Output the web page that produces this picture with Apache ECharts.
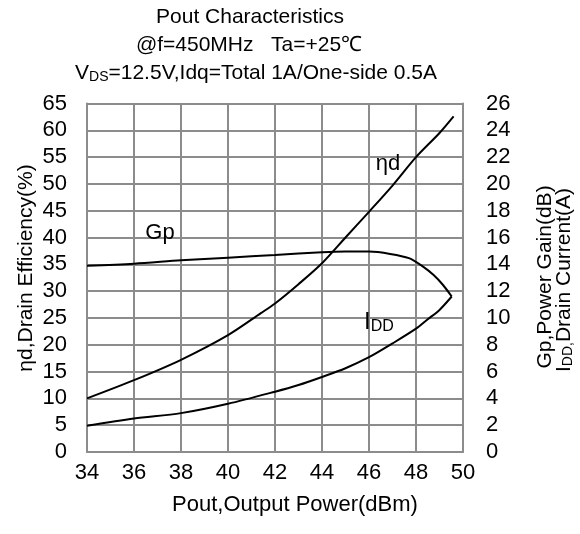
<!DOCTYPE html>
<html><head><meta charset="utf-8">
<script src="https://cdn.jsdelivr.net/npm/echarts@6/dist/echarts.min.js"></script>
<style>html,body{margin:0;padding:0;background:#fff}#c{width:580px;height:534px}</style>
</head><body><div id="c"></div>
<script>
const xTicks = [34, 50, 2];
const effTicks = [0, 65, 5];
const rightTicks = [0, 26, 2];
// ηd (%) vs Pout (dBm)
const effX = [34, 36, 38, 40, 41.4, 42, 43, 44, 45, 46, 47, 48, 49, 49.6];
const effY = [10, 13.4, 17.2, 21.8, 25.9, 27.7, 31.3, 35.2, 40.0, 44.8, 49.7, 55.0, 59.5, 62.6];
// Gp (dB) vs Pout
const gpX = [34, 36, 38, 40, 42, 44, 45, 46, 46.9, 47.7, 48.3, 48.75, 49.15, 49.52];
const gpY = [13.9, 14.05, 14.3, 14.5, 14.7, 14.9, 14.95, 14.95, 14.78, 14.46, 13.83, 13.2, 12.46, 11.6];
// IDD (A) vs Pout
const iddX = [34, 36, 38, 40, 42, 43, 44, 45, 46, 47, 48, 48.5, 49, 49.52];
const iddY = [1.96, 2.5, 2.9, 3.6, 4.5, 5.0, 5.6, 6.25, 7.07, 8.1, 9.2, 9.9, 10.6, 11.6];

const pairs = (xs, ys) => xs.map((x, i) => [x, ys[i]]);
const F = 'Liberation Sans, Arial, sans-serif';
const grid = '#8c8c8c';
const chart = echarts.init(document.getElementById('c'));
const lineS = (data, yi) => ({type:'line', yAxisIndex: yi, data, smooth: 0.3, symbol:'none',
  lineStyle:{color:'#000', width:2}, z: 5});
chart.setOption({
  animation:false,
  grid:{left:87, right:117, top:103.5, bottom:82},
  xAxis:{type:'value', min:xTicks[0], max:xTicks[1], interval:xTicks[2],
    axisLine:{lineStyle:{color:grid, width:2}}, axisTick:{show:false},
    splitLine:{show:true, lineStyle:{color:grid, width:2}},
    axisLabel:{color:'#000', fontSize:22, fontFamily:F, margin:10}},
  yAxis:[
    {type:'value', min:effTicks[0], max:effTicks[1], interval:effTicks[2],
      axisLine:{show:true, lineStyle:{color:grid, width:2}}, axisTick:{show:false},
      splitLine:{show:true, lineStyle:{color:grid, width:2}},
      axisLabel:{color:'#000', fontSize:22, fontFamily:F, margin:20}},
    {type:'value', min:rightTicks[0], max:rightTicks[1], interval:rightTicks[2], position:'right',
      axisLine:{show:true, lineStyle:{color:grid, width:2}}, axisTick:{show:false},
      splitLine:{show:false},
      axisLabel:{color:'#000', fontSize:22, fontFamily:F, margin:23}}
  ],
  series:[lineS(pairs(effX, effY), 0), lineS(pairs(gpX, gpY), 1), lineS(pairs(iddX, iddY), 1)],
  graphic:[
    {type:'text', x:250, y:17, style:{text:'Pout Characteristics', font:'21px '+F, fill:'#000', textAlign:'center', textVerticalAlign:'middle'}},
    {type:'text', x:249, y:45, style:{text:'@f=450MHz   Ta=+25\u2103', font:'21px '+F, fill:'#000', textAlign:'center', textVerticalAlign:'middle'}},
    {type:'text', x:256, y:73, style:{text:'{n|V}{s|DS}{n|=12.5V,Idq=Total 1A/One-side 0.5A}', fill:'#000', textAlign:'center', textVerticalAlign:'middle',
      rich:{n:{fontSize:21, fontFamily:F, fill:'#000'}, s:{fontSize:14, fontFamily:F, fill:'#000', padding:[9,0,0,0]}}}},
    {type:'text', x:26, y:268, rotation:Math.PI/2, style:{text:'\u03b7d,Drain Efficiency(%)', font:'21px '+F, fill:'#000', textAlign:'center', textVerticalAlign:'middle'}},
    {type:'text', x:545, y:277, rotation:Math.PI/2, style:{text:'Gp,Power Gain(dB)', font:'21px '+F, fill:'#000', textAlign:'center', textVerticalAlign:'middle'}},
    {type:'text', x:564, y:280, rotation:Math.PI/2, style:{text:'{n|I}{s|DD,}{n|Drain Current(A)}', fill:'#000', textAlign:'center', textVerticalAlign:'middle',
      rich:{n:{fontSize:21, fontFamily:F, fill:'#000'}, s:{fontSize:14, fontFamily:F, fill:'#000', padding:[9,0,0,0]}}}},
    {type:'text', x:295, y:505, style:{text:'Pout,Output Power(dBm)', font:'22px '+F, fill:'#000', textAlign:'center', textVerticalAlign:'middle'}},
    {type:'text', x:160, y:233, z:10, style:{text:'Gp', font:'22px '+F, fill:'#000', textAlign:'center', textVerticalAlign:'middle'}},
    {type:'text', x:388, y:164, z:10, style:{text:'\u03b7d', font:'22px '+F, fill:'#000', textAlign:'center', textVerticalAlign:'middle'}},
    {type:'text', x:364, y:322, z:10, style:{text:'{n|I}{s|DD}', fill:'#000', textAlign:'left', textVerticalAlign:'middle',
      rich:{n:{fontSize:24, fontFamily:F, fill:'#000'}, s:{fontSize:16, fontFamily:F, fill:'#000', padding:[10,0,0,0]}}}}
  ]
});
</script></body></html>
